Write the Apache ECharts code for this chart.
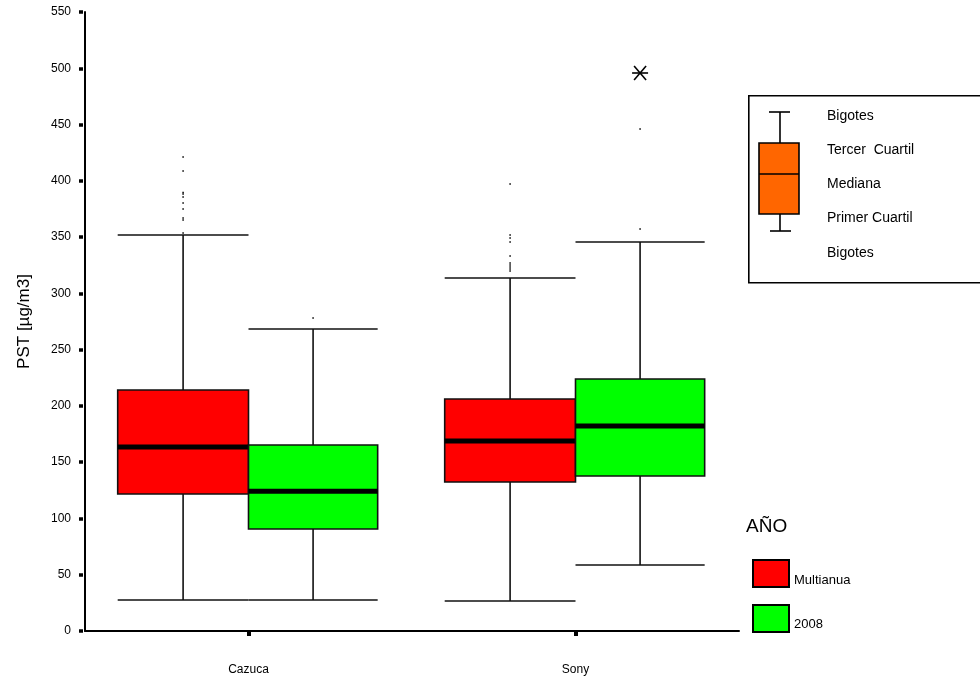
<!DOCTYPE html>
<html>
<head>
<meta charset="utf-8">
<script src="https://cdn.jsdelivr.net/npm/echarts@6/dist/echarts.min.js"></script>
<style>
html,body{margin:0;padding:0;background:#fff;}
#chart{width:980px;height:683px;}
</style>
</head>
<body>
<div id="chart"></div>
<script>
// ---- data ----
const categories = ['Cazuca', 'Sony'];
const seriesNames = ['Multianual', '2008'];
const yTicks = [0, 50, 100, 150, 200, 250, 300, 350, 400, 450, 500, 550];
// [low whisker, Q1, median, Q3, high whisker]
const boxMultianual = [[27.5, 121.7, 163.5, 214.1, 351.8], [26.7, 132.4, 168.8, 206.1, 313.6]];
const box2008 = [[27.5, 90.6, 124.1, 165.3, 268.3], [58.6, 137.7, 182.1, 223.9, 345.6]];
// outliers [category index, value]
const outMultianual = [[0, 421.1], [0, 408.7], [0, 389.6], [0, 388.3], [0, 385.6], [0, 380.3], [0, 374.9], [0, 366.9], [0, 365.2], [0, 353.6],
  [1, 397.2], [1, 351.8], [1, 349.2], [1, 345.6], [1, 333.2], [1, 327.0], [1, 325.2], [1, 323.4], [1, 321.6], [1, 319.9]];
const out2008 = [[0, 278.1], [1, 446.0], [1, 357.2]];
const extreme2008 = [[1, 495.8]];

const FONT = "'Liberation Sans', Arial, sans-serif";
const colors = ['#ff0000', '#00ff00'];
const offsets = [[-0.40, 0.0], [0.0, 0.395]];

function boxRender(k) {
  return function (params, api) {
    const cat = api.value(0);
    const bw = api.size([1, 0])[0];
    const c = api.coord([cat, 0])[0];
    const x0 = c + offsets[k][0] * bw, x1 = c + offsets[k][1] * bw, xm = (x0 + x1) / 2;
    const y = i => api.coord([cat, api.value(i)])[1];
    const yl = y(1), yq1 = y(2), ym = y(3), yq3 = y(4), yh = y(5);
    const ls = { stroke: '#111', lineWidth: 1.6 };
    return {
      type: 'group', children: [
        { type: 'line', shape: { x1: xm, y1: yh, x2: xm, y2: yq3 }, style: ls },
        { type: 'line', shape: { x1: xm, y1: yq1, x2: xm, y2: yl }, style: ls },
        { type: 'line', shape: { x1: x0, y1: yh, x2: x1, y2: yh }, style: ls },
        { type: 'line', shape: { x1: x0, y1: yl, x2: x1, y2: yl }, style: ls },
        { type: 'rect', shape: { x: x0, y: yq3, width: x1 - x0, height: yq1 - yq3 }, style: { fill: colors[k], stroke: '#111', lineWidth: 1.6 } },
        { type: 'line', shape: { x1: x0, y1: ym, x2: x1, y2: ym }, style: { stroke: '#000', lineWidth: 5 } }
      ]
    };
  };
}
function outRender(k, star) {
  return function (params, api) {
    const cat = api.value(0);
    const bw = api.size([1, 0])[0];
    const c = api.coord([cat, 0])[0];
    const xm = c + (offsets[k][0] + offsets[k][1]) / 2 * bw;
    const yy = api.coord([cat, api.value(1)])[1];
    if (star) {
      const s = { stroke: '#000', lineWidth: 1.6 };
      return {
        type: 'group', children: [
          { type: 'line', shape: { x1: xm - 8, y1: yy, x2: xm + 8, y2: yy }, style: s },
          { type: 'line', shape: { x1: xm - 6, y1: yy - 7, x2: xm + 6, y2: yy + 7 }, style: s },
          { type: 'line', shape: { x1: xm - 6, y1: yy + 7, x2: xm + 6, y2: yy - 7 }, style: s }
        ]
      };
    }
    return { type: 'rect', shape: { x: xm - 0.75, y: yy - 0.75, width: 1.5, height: 1.5 }, style: { fill: '#000' } };
  };
}

const chart = echarts.init(document.getElementById('chart'));
const option = {
  animation: false,
  backgroundColor: '#fff',
  grid: { left: 85, right: 241, top: 12, bottom: 52, containLabel: false },
  xAxis: {
    type: 'category', data: categories, boundaryGap: true,
    axisLine: { lineStyle: { color: '#000', width: 2 } },
    axisTick: { show: true, interval: 0, alignWithLabel: true, length: 5, lineStyle: { color: '#000', width: 4 } },
    axisLabel: { margin: 33, fontFamily: FONT, fontSize: 12, color: '#000' },
    splitLine: { show: false }
  },
  yAxis: {
    type: 'value', min: 0, max: 550, interval: 50,
    name: 'PST [µg/m3]', nameLocation: 'middle', nameGap: 52,
    nameTextStyle: { fontFamily: FONT, fontSize: 17, color: '#000' },
    axisLine: { show: true, lineStyle: { color: '#000', width: 2 } },
    axisTick: { show: true, length: 6, lineStyle: { color: '#000', width: 3.5, type: [4, 2], dashOffset: 4 } },
    axisLabel: { margin: 14, fontFamily: FONT, fontSize: 12, color: '#000', padding: [0, 0, 4, 0],
      formatter: v => (yTicks.indexOf(v) >= 0 ? String(v) : '') },
    splitLine: { show: false }
  },
  series: [
    { name: seriesNames[0], type: 'custom', renderItem: boxRender(0), data: boxMultianual.map((b, i) => [i, ...b]), z: 2 },
    { name: seriesNames[1], type: 'custom', renderItem: boxRender(1), data: box2008.map((b, i) => [i, ...b]), z: 2 },
    { name: seriesNames[0] + ' outliers', type: 'custom', renderItem: outRender(0, false), data: outMultianual, z: 3 },
    { name: seriesNames[1] + ' outliers', type: 'custom', renderItem: outRender(1, false), data: out2008, z: 3 },
    { name: seriesNames[1] + ' extremos', type: 'custom', renderItem: outRender(1, true), data: extreme2008, z: 3 }
  ],
  graphic: [
    // explanation box
    { type: 'rect', left: 748, top: 95, shape: { width: 260, height: 187 }, style: { fill: '#fff', stroke: '#000', lineWidth: 1.6 }, z: 10 },
    { type: 'line', shape: { x1: 780, y1: 112, x2: 780, y2: 231 }, style: { stroke: '#000', lineWidth: 1.6 }, z: 11 },
    { type: 'line', shape: { x1: 769, y1: 112, x2: 790, y2: 112 }, style: { stroke: '#000', lineWidth: 1.6 }, z: 11 },
    { type: 'line', shape: { x1: 770, y1: 231, x2: 791, y2: 231 }, style: { stroke: '#000', lineWidth: 1.6 }, z: 11 },
    { type: 'rect', shape: { x: 759, y: 143, width: 40, height: 71 }, style: { fill: '#ff6600', stroke: '#000', lineWidth: 1.6 }, z: 12 },
    { type: 'line', shape: { x1: 759, y1: 174, x2: 799, y2: 174 }, style: { stroke: '#000', lineWidth: 1.6 }, z: 13 },
    { type: 'text', x: 827, y: 116, style: { text: 'Bigotes', font: '14px ' + FONT, fill: '#000', verticalAlign: 'middle' }, z: 11 },
    { type: 'text', x: 827, y: 150, style: { text: 'Tercer  Cuartil', font: '14px ' + FONT, fill: '#000', verticalAlign: 'middle' }, z: 11 },
    { type: 'text', x: 827, y: 184, style: { text: 'Mediana', font: '14px ' + FONT, fill: '#000', verticalAlign: 'middle' }, z: 11 },
    { type: 'text', x: 827, y: 218, style: { text: 'Primer Cuartil', font: '14px ' + FONT, fill: '#000', verticalAlign: 'middle' }, z: 11 },
    { type: 'text', x: 827, y: 253, style: { text: 'Bigotes', font: '14px ' + FONT, fill: '#000', verticalAlign: 'middle' }, z: 11 },
    // year legend
    { type: 'text', x: 746, y: 527, style: { text: 'AÑO', font: '19px ' + FONT, fill: '#000', verticalAlign: 'middle' }, z: 11 },
    { type: 'rect', shape: { x: 753, y: 560, width: 36, height: 27 }, style: { fill: colors[0], stroke: '#000', lineWidth: 2 }, z: 11 },
    { type: 'rect', shape: { x: 753, y: 605, width: 36, height: 27 }, style: { fill: colors[1], stroke: '#000', lineWidth: 2 }, z: 11 },
    { type: 'text', x: 794, y: 580, style: { text: seriesNames[0], font: '13px ' + FONT, fill: '#000', verticalAlign: 'middle' }, z: 11 },
    { type: 'rect', shape: { x: 851, y: 570, width: 40, height: 20 }, style: { fill: '#fff' }, z: 12 },
    { type: 'text', x: 794, y: 624, style: { text: seriesNames[1], font: '13px ' + FONT, fill: '#000', verticalAlign: 'middle' }, z: 11 }
  ]
};
chart.setOption(option);
</script>
</body>
</html>
